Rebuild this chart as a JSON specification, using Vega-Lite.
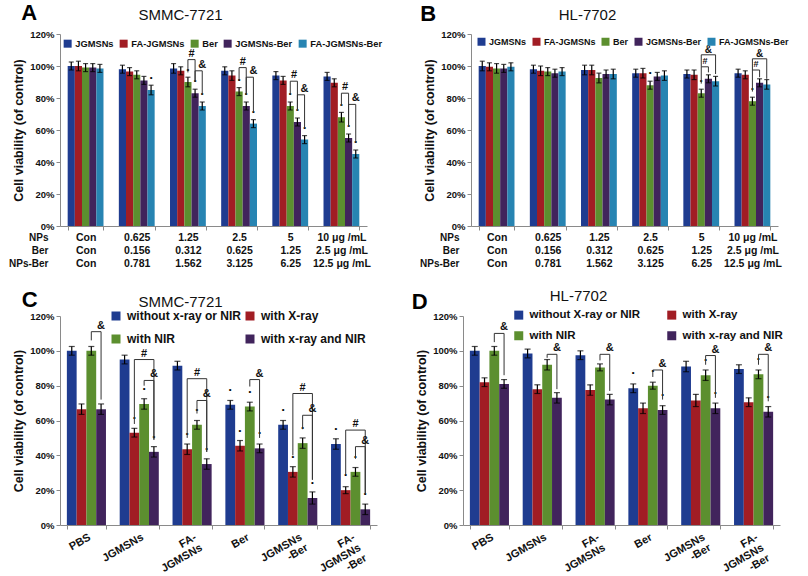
{
"$schema":"https://vega.github.io/schema/vega-lite/v6.json",
"background":"white",
"padding":{"left":8,"top":2,"right":5,"bottom":5},
"config":{"font":"Liberation Sans","view":{"stroke":null},
 "axis":{"labelFont":"Liberation Sans","labelFontWeight":"bold","labelColor":"#111","domainColor":"#8a8a8a","tickColor":"#8a8a8a","grid":false,"titleFont":"Liberation Sans","titleFontWeight":"bold","titleColor":"#111","labelOverlap":false,"labelBound":false},
 "legend":{"labelFont":"Liberation Sans","labelFontWeight":"bold","labelColor":"#111","symbolType":"square","symbolStrokeWidth":0,"title":null},
 "title":{"font":"Liberation Sans","color":"#111"}
},
"resolve":{"scale":{"x":"independent","y":"independent","xOffset":"independent","color":"independent"},"legend":{"color":"independent"}},
"datasets":{
 "A":[
  {"g":"Con|Con|Con","s":"JGMSNs","v":100,"e":2.5,"k":0},{"g":"Con|Con|Con","s":"FA-JGMSNs","v":100,"e":3,"k":0},{"g":"Con|Con|Con","s":"Ber","v":99,"e":2.5,"k":0},{"g":"Con|Con|Con","s":"JGMSNs-Ber","v":99,"e":2.5,"k":0},{"g":"Con|Con|Con","s":"FA-JGMSNs-Ber","v":98.5,"e":2.5,"k":0},
  {"g":"0.625|0.156|0.781","s":"JGMSNs","v":98,"e":2.5,"k":0},{"g":"0.625|0.156|0.781","s":"FA-JGMSNs","v":96.5,"e":2.5,"k":0},{"g":"0.625|0.156|0.781","s":"Ber","v":94.5,"e":2.5,"k":0},{"g":"0.625|0.156|0.781","s":"JGMSNs-Ber","v":91,"e":2.5,"k":0},{"g":"0.625|0.156|0.781","s":"FA-JGMSNs-Ber","v":85,"e":3,"k":1},
  {"g":"1.25|0.312|1.562","s":"JGMSNs","v":98.5,"e":3,"k":0},{"g":"1.25|0.312|1.562","s":"FA-JGMSNs","v":97,"e":2.5,"k":0},{"g":"1.25|0.312|1.562","s":"Ber","v":90,"e":3,"k":1},{"g":"1.25|0.312|1.562","s":"JGMSNs-Ber","v":83,"e":2.5,"k":1},{"g":"1.25|0.312|1.562","s":"FA-JGMSNs-Ber","v":75,"e":2.5,"k":1},
  {"g":"2.5|0.625|3.125","s":"JGMSNs","v":97,"e":2.5,"k":0},{"g":"2.5|0.625|3.125","s":"FA-JGMSNs","v":94,"e":3,"k":0},{"g":"2.5|0.625|3.125","s":"Ber","v":84,"e":2.5,"k":1},{"g":"2.5|0.625|3.125","s":"JGMSNs-Ber","v":75,"e":2.5,"k":1},{"g":"2.5|0.625|3.125","s":"FA-JGMSNs-Ber","v":64,"e":2.5,"k":1},
  {"g":"5|1.25|6.25","s":"JGMSNs","v":94,"e":2.5,"k":0},{"g":"5|1.25|6.25","s":"FA-JGMSNs","v":91,"e":2.5,"k":0},{"g":"5|1.25|6.25","s":"Ber","v":75,"e":2.5,"k":1},{"g":"5|1.25|6.25","s":"JGMSNs-Ber","v":65,"e":2.5,"k":1},{"g":"5|1.25|6.25","s":"FA-JGMSNs-Ber","v":54,"e":2.5,"k":1},
  {"g":"10 μg /mL|2.5 μg /mL|12.5 μg /mL","s":"JGMSNs","v":93.5,"e":2.5,"k":0},{"g":"10 μg /mL|2.5 μg /mL|12.5 μg /mL","s":"FA-JGMSNs","v":89.5,"e":2.5,"k":0},{"g":"10 μg /mL|2.5 μg /mL|12.5 μg /mL","s":"Ber","v":68,"e":3,"k":1},{"g":"10 μg /mL|2.5 μg /mL|12.5 μg /mL","s":"JGMSNs-Ber","v":55,"e":2.5,"k":1},{"g":"10 μg /mL|2.5 μg /mL|12.5 μg /mL","s":"FA-JGMSNs-Ber","v":45,"e":2.5,"k":1}
 ],
 "Ab":[
  {"id":"a1","g":"1.25|0.312|1.562","s":"Ber","y":96,"o":1},{"id":"a1","g":"1.25|0.312|1.562","s":"Ber","y":104,"o":2},{"id":"a1","g":"1.25|0.312|1.562","s":"JGMSNs-Ber","y":104,"o":3},{"id":"a1","g":"1.25|0.312|1.562","s":"JGMSNs-Ber","y":90,"o":4},
  {"id":"a2","g":"1.25|0.312|1.562","s":"JGMSNs-Ber","y":91,"o":1},{"id":"a2","g":"1.25|0.312|1.562","s":"JGMSNs-Ber","y":97,"o":2},{"id":"a2","g":"1.25|0.312|1.562","s":"FA-JGMSNs-Ber","y":97,"o":3},{"id":"a2","g":"1.25|0.312|1.562","s":"FA-JGMSNs-Ber","y":82,"o":4},
  {"id":"a3","g":"2.5|0.625|3.125","s":"Ber","y":91,"o":1},{"id":"a3","g":"2.5|0.625|3.125","s":"Ber","y":99,"o":2},{"id":"a3","g":"2.5|0.625|3.125","s":"JGMSNs-Ber","y":99,"o":3},{"id":"a3","g":"2.5|0.625|3.125","s":"JGMSNs-Ber","y":82,"o":4},
  {"id":"a4","g":"2.5|0.625|3.125","s":"JGMSNs-Ber","y":82,"o":1},{"id":"a4","g":"2.5|0.625|3.125","s":"JGMSNs-Ber","y":93,"o":2},{"id":"a4","g":"2.5|0.625|3.125","s":"FA-JGMSNs-Ber","y":93,"o":3},{"id":"a4","g":"2.5|0.625|3.125","s":"FA-JGMSNs-Ber","y":71,"o":4},
  {"id":"a5","g":"5|1.25|6.25","s":"Ber","y":82,"o":1},{"id":"a5","g":"5|1.25|6.25","s":"Ber","y":90.5,"o":2},{"id":"a5","g":"5|1.25|6.25","s":"JGMSNs-Ber","y":90.5,"o":3},{"id":"a5","g":"5|1.25|6.25","s":"JGMSNs-Ber","y":72,"o":4},
  {"id":"a6","g":"5|1.25|6.25","s":"JGMSNs-Ber","y":72,"o":1},{"id":"a6","g":"5|1.25|6.25","s":"JGMSNs-Ber","y":82,"o":2},{"id":"a6","g":"5|1.25|6.25","s":"FA-JGMSNs-Ber","y":82,"o":3},{"id":"a6","g":"5|1.25|6.25","s":"FA-JGMSNs-Ber","y":61,"o":4},
  {"id":"a7","g":"10 μg /mL|2.5 μg /mL|12.5 μg /mL","s":"Ber","y":75,"o":1},{"id":"a7","g":"10 μg /mL|2.5 μg /mL|12.5 μg /mL","s":"Ber","y":83,"o":2},{"id":"a7","g":"10 μg /mL|2.5 μg /mL|12.5 μg /mL","s":"JGMSNs-Ber","y":83,"o":3},{"id":"a7","g":"10 μg /mL|2.5 μg /mL|12.5 μg /mL","s":"JGMSNs-Ber","y":62,"o":4},
  {"id":"a8","g":"10 μg /mL|2.5 μg /mL|12.5 μg /mL","s":"JGMSNs-Ber","y":62,"o":1},{"id":"a8","g":"10 μg /mL|2.5 μg /mL|12.5 μg /mL","s":"JGMSNs-Ber","y":76,"o":2},{"id":"a8","g":"10 μg /mL|2.5 μg /mL|12.5 μg /mL","s":"FA-JGMSNs-Ber","y":76,"o":3},{"id":"a8","g":"10 μg /mL|2.5 μg /mL|12.5 μg /mL","s":"FA-JGMSNs-Ber","y":52,"o":4}
 ],
 "As":[
  {"g":"1.25|0.312|1.562","s":"Ber","y":104,"m":"#","n":1},{"g":"1.25|0.312|1.562","s":"FA-JGMSNs-Ber","y":97,"m":"&","n":0},
  {"g":"2.5|0.625|3.125","s":"Ber","y":99,"m":"#","n":1},{"g":"2.5|0.625|3.125","s":"FA-JGMSNs-Ber","y":93,"m":"&","n":0},
  {"g":"5|1.25|6.25","s":"Ber","y":90.5,"m":"#","n":1},{"g":"5|1.25|6.25","s":"FA-JGMSNs-Ber","y":82,"m":"&","n":0},
  {"g":"10 μg /mL|2.5 μg /mL|12.5 μg /mL","s":"Ber","y":83,"m":"#","n":1},{"g":"10 μg /mL|2.5 μg /mL|12.5 μg /mL","s":"FA-JGMSNs-Ber","y":76,"m":"&","n":0}
 ],
 "B":[
  {"g":"Con|Con|Con","s":"JGMSNs","v":100,"e":3,"k":0},{"g":"Con|Con|Con","s":"FA-JGMSNs","v":99.5,"e":2.5,"k":0},{"g":"Con|Con|Con","s":"Ber","v":98.5,"e":3,"k":0},{"g":"Con|Con|Con","s":"JGMSNs-Ber","v":98.5,"e":2.5,"k":0},{"g":"Con|Con|Con","s":"FA-JGMSNs-Ber","v":99.5,"e":2.5,"k":0},
  {"g":"0.625|0.156|0.781","s":"JGMSNs","v":98,"e":2.5,"k":0},{"g":"0.625|0.156|0.781","s":"FA-JGMSNs","v":97,"e":3,"k":0},{"g":"0.625|0.156|0.781","s":"Ber","v":96.5,"e":2.5,"k":0},{"g":"0.625|0.156|0.781","s":"JGMSNs-Ber","v":95.5,"e":2.5,"k":0},{"g":"0.625|0.156|0.781","s":"FA-JGMSNs-Ber","v":96.5,"e":2.5,"k":0},
  {"g":"1.25|0.312|1.562","s":"JGMSNs","v":97.5,"e":3,"k":0},{"g":"1.25|0.312|1.562","s":"FA-JGMSNs","v":97.5,"e":3,"k":0},{"g":"1.25|0.312|1.562","s":"Ber","v":92.5,"e":3,"k":0},{"g":"1.25|0.312|1.562","s":"JGMSNs-Ber","v":95,"e":2.5,"k":0},{"g":"1.25|0.312|1.562","s":"FA-JGMSNs-Ber","v":95,"e":3,"k":0},
  {"g":"2.5|0.625|3.125","s":"JGMSNs","v":95.5,"e":2.5,"k":0},{"g":"2.5|0.625|3.125","s":"FA-JGMSNs","v":95.5,"e":3,"k":0},{"g":"2.5|0.625|3.125","s":"Ber","v":88,"e":2.5,"k":1},{"g":"2.5|0.625|3.125","s":"JGMSNs-Ber","v":93.5,"e":2.5,"k":0},{"g":"2.5|0.625|3.125","s":"FA-JGMSNs-Ber","v":94,"e":3,"k":0},
  {"g":"5|1.25|6.25","s":"JGMSNs","v":95,"e":2.5,"k":0},{"g":"5|1.25|6.25","s":"FA-JGMSNs","v":94.5,"e":3,"k":0},{"g":"5|1.25|6.25","s":"Ber","v":83,"e":2.5,"k":1},{"g":"5|1.25|6.25","s":"JGMSNs-Ber","v":92,"e":2.5,"k":0},{"g":"5|1.25|6.25","s":"FA-JGMSNs-Ber","v":90.5,"e":3,"k":0},
  {"g":"10 μg /mL|2.5 μg /mL|12.5 μg /mL","s":"JGMSNs","v":95.5,"e":2.5,"k":0},{"g":"10 μg /mL|2.5 μg /mL|12.5 μg /mL","s":"FA-JGMSNs","v":94.5,"e":2.5,"k":0},{"g":"10 μg /mL|2.5 μg /mL|12.5 μg /mL","s":"Ber","v":78,"e":2.5,"k":1},{"g":"10 μg /mL|2.5 μg /mL|12.5 μg /mL","s":"JGMSNs-Ber","v":89.5,"e":2.5,"k":0},{"g":"10 μg /mL|2.5 μg /mL|12.5 μg /mL","s":"FA-JGMSNs-Ber","v":88.5,"e":3,"k":0}
 ],
 "Bb":[
  {"id":"b1","g":"5|1.25|6.25","s":"Ber","y":89,"o":1},{"id":"b1","g":"5|1.25|6.25","s":"Ber","y":99.5,"o":2},{"id":"b1","g":"5|1.25|6.25","s":"JGMSNs-Ber","y":99.5,"o":3},{"id":"b1","g":"5|1.25|6.25","s":"JGMSNs-Ber","y":96,"o":4},
  {"id":"b2","g":"5|1.25|6.25","s":"Ber","y":99.5,"o":1},{"id":"b2","g":"5|1.25|6.25","s":"Ber","y":107,"o":2},{"id":"b2","g":"5|1.25|6.25","s":"FA-JGMSNs-Ber","y":107,"o":3},{"id":"b2","g":"5|1.25|6.25","s":"FA-JGMSNs-Ber","y":95,"o":4},
  {"id":"b3","g":"10 μg /mL|2.5 μg /mL|12.5 μg /mL","s":"Ber","y":84,"o":1},{"id":"b3","g":"10 μg /mL|2.5 μg /mL|12.5 μg /mL","s":"Ber","y":97.5,"o":2},{"id":"b3","g":"10 μg /mL|2.5 μg /mL|12.5 μg /mL","s":"JGMSNs-Ber","y":97.5,"o":3},{"id":"b3","g":"10 μg /mL|2.5 μg /mL|12.5 μg /mL","s":"JGMSNs-Ber","y":93,"o":4},
  {"id":"b4","g":"10 μg /mL|2.5 μg /mL|12.5 μg /mL","s":"Ber","y":97.5,"o":1},{"id":"b4","g":"10 μg /mL|2.5 μg /mL|12.5 μg /mL","s":"Ber","y":104.5,"o":2},{"id":"b4","g":"10 μg /mL|2.5 μg /mL|12.5 μg /mL","s":"FA-JGMSNs-Ber","y":104.5,"o":3},{"id":"b4","g":"10 μg /mL|2.5 μg /mL|12.5 μg /mL","s":"FA-JGMSNs-Ber","y":92,"o":4}
 ],
 "Bs":[
  {"g":"5|1.25|6.25","s":"Ber","y":99.5,"m":"#","n":1},{"g":"5|1.25|6.25","s":"JGMSNs-Ber","y":107,"m":"&","n":2},
  {"g":"10 μg /mL|2.5 μg /mL|12.5 μg /mL","s":"Ber","y":97.5,"m":"#","n":1},{"g":"10 μg /mL|2.5 μg /mL|12.5 μg /mL","s":"JGMSNs-Ber","y":104.5,"m":"&","n":2}
 ],
 "C":[
  {"g":"PBS","s":"without x-ray or NIR","v":100,"e":2.5,"k":0},{"g":"PBS","s":"with X-ray","v":66.5,"e":3,"k":0},{"g":"PBS","s":"with NIR","v":100,"e":2.5,"k":0},{"g":"PBS","s":"with x-ray and NIR","v":66.5,"e":3,"k":0},
  {"g":"JGMSNs","s":"without x-ray or NIR","v":95,"e":2.5,"k":0},{"g":"JGMSNs","s":"with X-ray","v":53,"e":2.5,"k":1},{"g":"JGMSNs","s":"with NIR","v":69.5,"e":3,"k":1},{"g":"JGMSNs","s":"with x-ray and NIR","v":42,"e":3,"k":1},
  {"g":"FA-|JGMSNs","s":"without x-ray or NIR","v":91.5,"e":2.5,"k":0},{"g":"FA-|JGMSNs","s":"with X-ray","v":43.5,"e":3,"k":1},{"g":"FA-|JGMSNs","s":"with NIR","v":57.5,"e":2.5,"k":1},{"g":"FA-|JGMSNs","s":"with x-ray and NIR","v":35,"e":3,"k":1},
  {"g":"Ber","s":"without x-ray or NIR","v":69,"e":2.5,"k":1},{"g":"Ber","s":"with X-ray","v":45.5,"e":3,"k":1},{"g":"Ber","s":"with NIR","v":68,"e":2.5,"k":1},{"g":"Ber","s":"with x-ray and NIR","v":44,"e":2.5,"k":1},
  {"g":"JGMSNs|-Ber","s":"without x-ray or NIR","v":57.5,"e":2.5,"k":1},{"g":"JGMSNs|-Ber","s":"with X-ray","v":30.5,"e":3,"k":1},{"g":"JGMSNs|-Ber","s":"with NIR","v":47,"e":3,"k":1},{"g":"JGMSNs|-Ber","s":"with x-ray and NIR","v":15.5,"e":3.5,"k":1},
  {"g":"FA-|JGMSNs|-Ber","s":"without x-ray or NIR","v":46.5,"e":3,"k":1},{"g":"FA-|JGMSNs|-Ber","s":"with X-ray","v":20,"e":2,"k":1},{"g":"FA-|JGMSNs|-Ber","s":"with NIR","v":30.5,"e":2.5,"k":1},{"g":"FA-|JGMSNs|-Ber","s":"with x-ray and NIR","v":9,"e":3,"k":1}
 ],
 "Cb":[
  {"id":"c1","g":"PBS","s":"with NIR","y":106,"o":1},{"id":"c1","g":"PBS","s":"with NIR","y":111,"o":2},{"id":"c1","g":"PBS","s":"with x-ray and NIR","y":111,"o":3},{"id":"c1","g":"PBS","s":"with x-ray and NIR","y":72,"o":4},
  {"id":"c2","g":"JGMSNs","s":"with X-ray","y":58,"o":1},{"id":"c2","g":"JGMSNs","s":"with X-ray","y":95,"o":2},{"id":"c2","g":"JGMSNs","s":"with x-ray and NIR","y":95,"o":3},{"id":"c2","g":"JGMSNs","s":"with x-ray and NIR","y":49,"o":4},
  {"id":"c3","g":"JGMSNs","s":"with NIR","y":80,"o":1},{"id":"c3","g":"JGMSNs","s":"with NIR","y":83,"o":2},{"id":"c3","g":"JGMSNs","s":"with x-ray and NIR","y":83,"o":3},{"id":"c3","g":"JGMSNs","s":"with x-ray and NIR","y":49,"o":4},
  {"id":"c4","g":"FA-|JGMSNs","s":"with X-ray","y":50,"o":1},{"id":"c4","g":"FA-|JGMSNs","s":"with X-ray","y":84,"o":2},{"id":"c4","g":"FA-|JGMSNs","s":"with x-ray and NIR","y":84,"o":3},{"id":"c4","g":"FA-|JGMSNs","s":"with x-ray and NIR","y":42,"o":4},
  {"id":"c5","g":"FA-|JGMSNs","s":"with NIR","y":64,"o":1},{"id":"c5","g":"FA-|JGMSNs","s":"with NIR","y":71.5,"o":2},{"id":"c5","g":"FA-|JGMSNs","s":"with x-ray and NIR","y":71.5,"o":3},{"id":"c5","g":"FA-|JGMSNs","s":"with x-ray and NIR","y":42,"o":4},
  {"id":"c6","g":"Ber","s":"with NIR","y":79.5,"o":1},{"id":"c6","g":"Ber","s":"with NIR","y":83.5,"o":2},{"id":"c6","g":"Ber","s":"with x-ray and NIR","y":83.5,"o":3},{"id":"c6","g":"Ber","s":"with x-ray and NIR","y":50,"o":4},
  {"id":"c7","g":"JGMSNs|-Ber","s":"with X-ray","y":40,"o":1},{"id":"c7","g":"JGMSNs|-Ber","s":"with X-ray","y":75.5,"o":2},{"id":"c7","g":"JGMSNs|-Ber","s":"with x-ray and NIR","y":75.5,"o":3},{"id":"c7","g":"JGMSNs|-Ber","s":"with x-ray and NIR","y":26,"o":4},
  {"id":"c8","g":"JGMSNs|-Ber","s":"with NIR","y":55,"o":1},{"id":"c8","g":"JGMSNs|-Ber","s":"with NIR","y":63,"o":2},{"id":"c8","g":"JGMSNs|-Ber","s":"with x-ray and NIR","y":63,"o":3},{"id":"c8","g":"JGMSNs|-Ber","s":"with x-ray and NIR","y":26,"o":4},
  {"id":"c9","g":"FA-|JGMSNs|-Ber","s":"with X-ray","y":29,"o":1},{"id":"c9","g":"FA-|JGMSNs|-Ber","s":"with X-ray","y":54.5,"o":2},{"id":"c9","g":"FA-|JGMSNs|-Ber","s":"with x-ray and NIR","y":54.5,"o":3},{"id":"c9","g":"FA-|JGMSNs|-Ber","s":"with x-ray and NIR","y":18,"o":4},
  {"id":"c10","g":"FA-|JGMSNs|-Ber","s":"with NIR","y":38,"o":1},{"id":"c10","g":"FA-|JGMSNs|-Ber","s":"with NIR","y":45,"o":2},{"id":"c10","g":"FA-|JGMSNs|-Ber","s":"with x-ray and NIR","y":45,"o":3},{"id":"c10","g":"FA-|JGMSNs|-Ber","s":"with x-ray and NIR","y":18,"o":4}
 ],
 "Cs":[
  {"g":"PBS","s":"with x-ray and NIR","y":111,"m":"&","n":0},
  {"g":"JGMSNs","s":"with NIR","y":95,"m":"#","n":2},{"g":"JGMSNs","s":"with x-ray and NIR","y":83,"m":"&","n":0},
  {"g":"FA-|JGMSNs","s":"with NIR","y":84,"m":"#","n":2},{"g":"FA-|JGMSNs","s":"with x-ray and NIR","y":71.5,"m":"&","n":0},
  {"g":"Ber","s":"with x-ray and NIR","y":83.5,"m":"&","n":0},
  {"g":"JGMSNs|-Ber","s":"with NIR","y":75.5,"m":"#","n":2},{"g":"JGMSNs|-Ber","s":"with x-ray and NIR","y":63,"m":"&","n":0},
  {"g":"FA-|JGMSNs|-Ber","s":"with NIR","y":54.5,"m":"#","n":2},{"g":"FA-|JGMSNs|-Ber","s":"with x-ray and NIR","y":45,"m":"&","n":0}
 ],
 "D":[
  {"g":"PBS","s":"without X-ray or NIR","v":100,"e":2.5,"k":0},{"g":"PBS","s":"with X-ray","v":82,"e":2.5,"k":0},{"g":"PBS","s":"with NIR","v":100,"e":2.5,"k":0},{"g":"PBS","s":"with x-ray and NIR","v":81,"e":2.5,"k":0},
  {"g":"JGMSNs","s":"without X-ray or NIR","v":98.5,"e":2.5,"k":0},{"g":"JGMSNs","s":"with X-ray","v":78,"e":2.5,"k":0},{"g":"JGMSNs","s":"with NIR","v":92,"e":3,"k":0},{"g":"JGMSNs","s":"with x-ray and NIR","v":73,"e":3,"k":0},
  {"g":"FA-|JGMSNs","s":"without X-ray or NIR","v":97.5,"e":2.5,"k":0},{"g":"FA-|JGMSNs","s":"with X-ray","v":77.5,"e":3,"k":0},{"g":"FA-|JGMSNs","s":"with NIR","v":90.5,"e":2,"k":0},{"g":"FA-|JGMSNs","s":"with x-ray and NIR","v":72,"e":3,"k":0},
  {"g":"Ber","s":"without X-ray or NIR","v":78.5,"e":2.5,"k":1},{"g":"Ber","s":"with X-ray","v":67,"e":3,"k":0},{"g":"Ber","s":"with NIR","v":80,"e":2,"k":1},{"g":"Ber","s":"with x-ray and NIR","v":66,"e":2.5,"k":1},
  {"g":"JGMSNs|-Ber","s":"without X-ray or NIR","v":91,"e":3,"k":0},{"g":"JGMSNs|-Ber","s":"with X-ray","v":71.5,"e":3.5,"k":0},{"g":"JGMSNs|-Ber","s":"with NIR","v":86,"e":3,"k":1},{"g":"JGMSNs|-Ber","s":"with x-ray and NIR","v":67,"e":3,"k":1},
  {"g":"FA-|JGMSNs|-Ber","s":"without X-ray or NIR","v":89.5,"e":2.5,"k":0},{"g":"FA-|JGMSNs|-Ber","s":"with X-ray","v":70.5,"e":2.5,"k":0},{"g":"FA-|JGMSNs|-Ber","s":"with NIR","v":86.5,"e":2.5,"k":1},{"g":"FA-|JGMSNs|-Ber","s":"with x-ray and NIR","v":65,"e":3,"k":1}
 ],
 "Db":[
  {"id":"d1","g":"PBS","s":"with NIR","y":105,"o":1},{"id":"d1","g":"PBS","s":"with NIR","y":110,"o":2},{"id":"d1","g":"PBS","s":"with x-ray and NIR","y":110,"o":3},{"id":"d1","g":"PBS","s":"with x-ray and NIR","y":86,"o":4},
  {"id":"d2","g":"JGMSNs","s":"with NIR","y":96,"o":1},{"id":"d2","g":"JGMSNs","s":"with NIR","y":98,"o":2},{"id":"d2","g":"JGMSNs","s":"with x-ray and NIR","y":98,"o":3},{"id":"d2","g":"JGMSNs","s":"with x-ray and NIR","y":78,"o":4},
  {"id":"d3","g":"FA-|JGMSNs","s":"with NIR","y":94.5,"o":1},{"id":"d3","g":"FA-|JGMSNs","s":"with NIR","y":98,"o":2},{"id":"d3","g":"FA-|JGMSNs","s":"with x-ray and NIR","y":98,"o":3},{"id":"d3","g":"FA-|JGMSNs","s":"with x-ray and NIR","y":77,"o":4},
  {"id":"d4","g":"Ber","s":"with NIR","y":85,"o":1},{"id":"d4","g":"Ber","s":"with NIR","y":89,"o":2},{"id":"d4","g":"Ber","s":"with x-ray and NIR","y":89,"o":3},{"id":"d4","g":"Ber","s":"with x-ray and NIR","y":72,"o":4},
  {"id":"d5","g":"JGMSNs|-Ber","s":"with NIR","y":92,"o":1},{"id":"d5","g":"JGMSNs|-Ber","s":"with NIR","y":97.3,"o":2},{"id":"d5","g":"JGMSNs|-Ber","s":"with x-ray and NIR","y":97.3,"o":3},{"id":"d5","g":"JGMSNs|-Ber","s":"with x-ray and NIR","y":73,"o":4},
  {"id":"d6","g":"FA-|JGMSNs|-Ber","s":"with NIR","y":92,"o":1},{"id":"d6","g":"FA-|JGMSNs|-Ber","s":"with NIR","y":98,"o":2},{"id":"d6","g":"FA-|JGMSNs|-Ber","s":"with x-ray and NIR","y":98,"o":3},{"id":"d6","g":"FA-|JGMSNs|-Ber","s":"with x-ray and NIR","y":71,"o":4}
 ],
 "Ds":[
  {"g":"PBS","s":"with x-ray and NIR","y":110,"m":"&","n":0},{"g":"JGMSNs","s":"with x-ray and NIR","y":98,"m":"&","n":0},{"g":"FA-|JGMSNs","s":"with x-ray and NIR","y":98,"m":"&","n":0},
  {"g":"Ber","s":"with x-ray and NIR","y":89,"m":"&","n":0},{"g":"JGMSNs|-Ber","s":"with x-ray and NIR","y":97.3,"m":"&","n":0},{"g":"FA-|JGMSNs|-Ber","s":"with x-ray and NIR","y":98,"m":"&","n":0}
 ]
},
"vconcat":[
 {"resolve":{"scale":{"x":"independent","y":"independent","xOffset":"independent","color":"independent"},"legend":{"color":"independent"}},
  "hconcat":[
  {"width":307,"height":192,
   "title":{"text":"SMMC-7721","fontSize":15,"fontWeight":"normal","frame":"group","anchor":"middle","dx":-33,"offset":-21},
   "data":{"name":"A"},
   "encoding":{
    "x":{"field":"g","type":"nominal","sort":null,"scale":{"domain":["Con|Con|Con","0.625|0.156|0.781","1.25|0.312|1.562","2.5|0.625|3.125","5|1.25|6.25","10 μg /mL|2.5 μg /mL|12.5 μg /mL"],"paddingInner":0.3,"paddingOuter":0.15},
     "axis":{"title":["NPs","Ber","NPs-Ber"],"labelExpr":"split(datum.label,'|')","labelAngle":0,"labelFontSize":10.5,"labelLineHeight":13,"labelBaseline":"top","labelPadding":2,"tickBand":"extent","tickSize":4,"titleFontSize":10,"titleLineHeight":13,"titleAngle":0,"titleAlign":"right","titleBaseline":"top","titleX":-12,"titleY":6}},
    "xOffset":{"field":"s","type":"nominal","sort":null,"scale":{"domain":["JGMSNs","FA-JGMSNs","Ber","JGMSNs-Ber","FA-JGMSNs-Ber"],"paddingInner":0,"paddingOuter":0}},
    "y":{"field":"v","type":"quantitative","scale":{"domain":[0,120],"nice":false},"axis":{"title":"Cell viability (of control)","values":[0,20,40,60,80,100,120],"labelExpr":"datum.value+'%'","labelFontSize":9.5,"tickSize":4,"titleFontSize":12.5,"titlePadding":4}}
   },
   "layer":[
    {"mark":{"type":"bar"},"encoding":{"color":{"field":"s","type":"nominal","sort":null,"scale":{"domain":["JGMSNs","FA-JGMSNs","Ber","JGMSNs-Ber","FA-JGMSNs-Ber"],"range":["#1f3c90","#a11d24","#5c8f2f","#41245c","#2784b2"]},"legend":{"orient":"none","legendX":3,"legendY":5,"direction":"horizontal","columns":5,"symbolSize":64,"labelFontSize":9.3,"columnPadding":5,"labelOffset":3}}}},
    {"mark":{"type":"errorbar","ticks":true,"size":5,"thickness":1.2,"color":"#000"},"encoding":{"yError":{"field":"e"}}},
    {"transform":[{"filter":"datum.k==1"}],"mark":{"type":"text","text":"•","fontSize":8,"dy":-12,"baseline":"middle","color":"#000"}},
    {"data":{"name":"Ab"},"mark":{"type":"line","color":"#333","strokeWidth":1},"encoding":{"y":{"field":"y","type":"quantitative"},"detail":{"field":"id"},"order":{"field":"o"}}},
    {"data":{"name":"As"},"transform":[{"filter":"datum.n==1"}],"mark":{"type":"text","fontSize":11,"fontWeight":"bold","dx":3.7,"dy":-1,"baseline":"bottom","color":"#111"},"encoding":{"y":{"field":"y","type":"quantitative"},"text":{"field":"m"}}},
    {"data":{"name":"As"},"transform":[{"filter":"datum.n!=1"}],"mark":{"type":"text","fontSize":11,"fontWeight":"bold","dx":0,"dy":-1,"baseline":"bottom","color":"#111"},"encoding":{"y":{"field":"y","type":"quantitative"},"text":{"field":"m"}}},
    {"transform":[{"filter":"datum.g=='Con|Con|Con' && datum.s=='JGMSNs'"}],"mark":{"type":"text","text":"A","fontSize":22,"fontWeight":"bold","align":"left","baseline":"middle","dx":-50,"dy":-21,"color":"#000"},"encoding":{"y":{"datum":120}}}
   ]},
  {"width":307,"height":192,
   "title":{"text":"HL-7702","fontSize":15,"fontWeight":"normal","frame":"group","anchor":"middle","dx":-37,"offset":-20},
   "data":{"name":"B"},
   "encoding":{
    "x":{"field":"g","type":"nominal","sort":null,"scale":{"domain":["Con|Con|Con","0.625|0.156|0.781","1.25|0.312|1.562","2.5|0.625|3.125","5|1.25|6.25","10 μg /mL|2.5 μg /mL|12.5 μg /mL"],"paddingInner":0.3,"paddingOuter":0.15},
     "axis":{"title":["NPs","Ber","NPs-Ber"],"labelExpr":"split(datum.label,'|')","labelAngle":0,"labelFontSize":10.5,"labelLineHeight":13,"labelBaseline":"top","labelPadding":2,"tickBand":"extent","tickSize":4,"titleFontSize":10,"titleLineHeight":13,"titleAngle":0,"titleAlign":"right","titleBaseline":"top","titleX":-12,"titleY":6}},
    "xOffset":{"field":"s","type":"nominal","sort":null,"scale":{"domain":["JGMSNs","FA-JGMSNs","Ber","JGMSNs-Ber","FA-JGMSNs-Ber"],"paddingInner":0,"paddingOuter":0}},
    "y":{"field":"v","type":"quantitative","scale":{"domain":[0,120],"nice":false},"axis":{"title":"Cell viability (of control)","values":[0,20,40,60,80,100,120],"labelExpr":"datum.value+'%'","labelFontSize":9.5,"tickSize":4,"titleFontSize":12.5,"titlePadding":4}}
   },
   "layer":[
    {"mark":{"type":"bar"},"encoding":{"color":{"field":"s","type":"nominal","sort":null,"scale":{"domain":["JGMSNs","FA-JGMSNs","Ber","JGMSNs-Ber","FA-JGMSNs-Ber"],"range":["#1f3c90","#a11d24","#5c8f2f","#41245c","#2784b2"]},"legend":{"orient":"none","legendX":6,"legendY":3,"direction":"horizontal","columns":5,"symbolSize":64,"labelFontSize":9,"columnPadding":5,"labelOffset":3}}}},
    {"mark":{"type":"errorbar","ticks":true,"size":5,"thickness":1.2,"color":"#000"},"encoding":{"yError":{"field":"e"}}},
    {"transform":[{"filter":"datum.k==1"}],"mark":{"type":"text","text":"•","fontSize":8,"dy":-12,"baseline":"middle","color":"#000"}},
    {"data":{"name":"Bb"},"mark":{"type":"line","color":"#333","strokeWidth":1},"encoding":{"y":{"field":"y","type":"quantitative"},"detail":{"field":"id"},"order":{"field":"o"}}},
    {"data":{"name":"Bs"},"transform":[{"filter":"datum.n==1"}],"mark":{"type":"text","fontSize":9,"fontWeight":"bold","dx":3.7,"dy":-1,"baseline":"bottom","color":"#111"},"encoding":{"y":{"field":"y","type":"quantitative"},"text":{"field":"m"}}},
    {"data":{"name":"Bs"},"transform":[{"filter":"datum.n!=1"}],"mark":{"type":"text","fontSize":10,"fontWeight":"bold","dx":0,"dy":0,"baseline":"bottom","color":"#111"},"encoding":{"y":{"field":"y","type":"quantitative"},"text":{"field":"m"}}},
    {"transform":[{"filter":"datum.g=='Con|Con|Con' && datum.s=='JGMSNs'"}],"mark":{"type":"text","text":"B","fontSize":22,"fontWeight":"bold","align":"left","baseline":"middle","dx":-62,"dy":-20,"color":"#000"},"encoding":{"y":{"datum":120}}}
   ]}
 ],"spacing":36},
 {"resolve":{"scale":{"x":"independent","y":"independent","xOffset":"independent","color":"independent"},"legend":{"color":"independent"}},
  "hconcat":[
  {"width":317,"height":209,
   "title":{"text":"SMMC-7721","fontSize":15,"fontWeight":"normal","frame":"group","anchor":"middle","dx":-38,"offset":-21},
   "data":{"name":"C"},
   "encoding":{
    "x":{"field":"g","type":"nominal","sort":null,"scale":{"domain":["PBS","JGMSNs","FA-|JGMSNs","Ber","JGMSNs|-Ber","FA-|JGMSNs|-Ber"],"paddingInner":0.26,"paddingOuter":0.13},
     "axis":{"title":null,"labelExpr":"split(datum.label,'|')","labelAngle":-30,"labelAlign":"right","labelBaseline":"top","labelFontSize":11,"labelLineHeight":12,"labelPadding":2,"tickBand":"extent","tickSize":4}},
    "xOffset":{"field":"s","type":"nominal","sort":null,"scale":{"domain":["without x-ray or NIR","with X-ray","with NIR","with x-ray and NIR"],"paddingInner":0,"paddingOuter":0}},
    "y":{"field":"v","type":"quantitative","scale":{"domain":[0,120],"nice":false},"axis":{"title":"Cell viability (of control)","values":[0,20,40,60,80,100,120],"labelExpr":"datum.value+'%'","labelFontSize":9.5,"tickSize":4,"titleFontSize":12.5,"titlePadding":4}}
   },
   "layer":[
    {"mark":{"type":"bar"},"encoding":{"color":{"field":"s","type":"nominal","sort":null,"scale":{"domain":["without x-ray or NIR","with X-ray","with NIR","with x-ray and NIR"],"range":["#1f3c90","#a11d24","#5c8f2f","#41245c"]},"legend":{"orient":"none","legendX":50,"legendY":-6,"direction":"horizontal","columns":2,"symbolSize":81,"labelFontSize":12,"columnPadding":2,"rowPadding":11,"labelOffset":5}}}},
    {"mark":{"type":"errorbar","ticks":true,"size":6,"thickness":1.2,"color":"#000"},"encoding":{"yError":{"field":"e"}}},
    {"transform":[{"filter":"datum.k==1"}],"mark":{"type":"text","text":"•","fontSize":8,"dy":-15,"baseline":"middle","color":"#000"}},
    {"data":{"name":"Cb"},"mark":{"type":"line","color":"#333","strokeWidth":1},"encoding":{"y":{"field":"y","type":"quantitative"},"detail":{"field":"id"},"order":{"field":"o"}}},
    {"data":{"name":"Cs"},"transform":[{"filter":"datum.n==1"}],"mark":{"type":"text","fontSize":11,"fontWeight":"bold","dx":4.9,"dy":-1,"baseline":"bottom","color":"#111"},"encoding":{"y":{"field":"y","type":"quantitative"},"text":{"field":"m"}}},
    {"data":{"name":"Cs"},"transform":[{"filter":"datum.n!=1"}],"mark":{"type":"text","fontSize":11,"fontWeight":"bold","dx":0,"dy":-1,"baseline":"bottom","color":"#111"},"encoding":{"y":{"field":"y","type":"quantitative"},"text":{"field":"m"}}},
    {"transform":[{"filter":"datum.g=='PBS' && datum.s=='without x-ray or NIR'"}],"mark":{"type":"text","text":"C","fontSize":22,"fontWeight":"bold","align":"left","baseline":"middle","dx":-50,"dy":-16,"color":"#000"},"encoding":{"y":{"datum":120}}}
   ]},
  {"width":317,"height":209,
   "title":{"text":"HL-7702","fontSize":15,"fontWeight":"normal","frame":"group","anchor":"middle","dx":-43,"offset":-13},
   "data":{"name":"D"},
   "encoding":{
    "x":{"field":"g","type":"nominal","sort":null,"scale":{"domain":["PBS","JGMSNs","FA-|JGMSNs","Ber","JGMSNs|-Ber","FA-|JGMSNs|-Ber"],"paddingInner":0.26,"paddingOuter":0.13},
     "axis":{"title":null,"labelExpr":"split(datum.label,'|')","labelAngle":-30,"labelAlign":"right","labelBaseline":"top","labelFontSize":11,"labelLineHeight":12,"labelPadding":2,"tickBand":"extent","tickSize":4}},
    "xOffset":{"field":"s","type":"nominal","sort":null,"scale":{"domain":["without X-ray or NIR","with X-ray","with NIR","with x-ray and NIR"],"paddingInner":0,"paddingOuter":0}},
    "y":{"field":"v","type":"quantitative","scale":{"domain":[0,120],"nice":false},"axis":{"title":"Cell viability (of control)","values":[0,20,40,60,80,100,120],"labelExpr":"datum.value+'%'","labelFontSize":9.5,"tickSize":4,"titleFontSize":12.5,"titlePadding":4}}
   },
   "layer":[
    {"mark":{"type":"bar"},"encoding":{"color":{"field":"s","type":"nominal","sort":null,"scale":{"domain":["without X-ray or NIR","with X-ray","with NIR","with x-ray and NIR"],"range":["#1f3c90","#a11d24","#5c8f2f","#41245c"]},"legend":{"orient":"none","legendX":50,"legendY":-7,"direction":"horizontal","columns":2,"symbolSize":81,"labelFontSize":11.5,"columnPadding":25,"rowPadding":8,"labelOffset":5}}}},
    {"mark":{"type":"errorbar","ticks":true,"size":6,"thickness":1.2,"color":"#000"},"encoding":{"yError":{"field":"e"}}},
    {"transform":[{"filter":"datum.k==1"}],"mark":{"type":"text","text":"•","fontSize":8,"dy":-15,"baseline":"middle","color":"#000"}},
    {"data":{"name":"Db"},"mark":{"type":"line","color":"#333","strokeWidth":1},"encoding":{"y":{"field":"y","type":"quantitative"},"detail":{"field":"id"},"order":{"field":"o"}}},
    {"data":{"name":"Ds"},"mark":{"type":"text","fontSize":11,"fontWeight":"bold","dx":0,"dy":-1,"baseline":"bottom","color":"#111"},"encoding":{"y":{"field":"y","type":"quantitative"},"text":{"field":"m"}}},
    {"transform":[{"filter":"datum.g=='PBS' && datum.s=='without X-ray or NIR'"}],"mark":{"type":"text","text":"D","fontSize":22,"fontWeight":"bold","align":"left","baseline":"middle","dx":-63,"dy":-14,"color":"#000"},"encoding":{"y":{"datum":120}}}
   ]}
 ],"spacing":34}
],
"spacing":20
}
